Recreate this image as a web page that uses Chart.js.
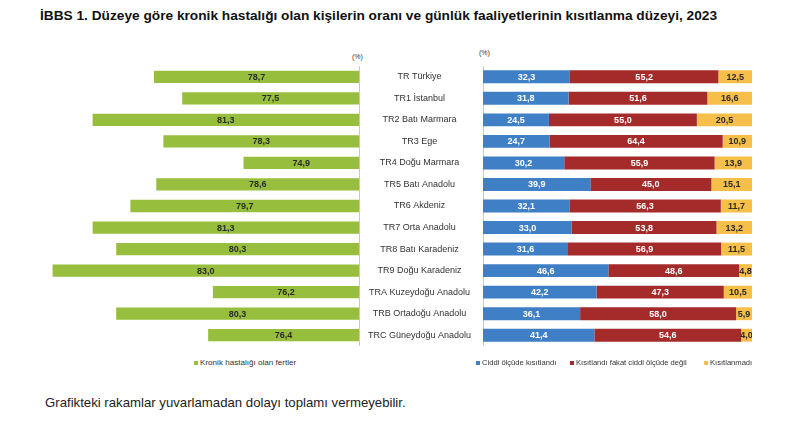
<!DOCTYPE html>
<html><head><meta charset="utf-8">
<script src="https://cdn.jsdelivr.net/npm/chart.js@4.4.0/dist/chart.umd.min.js"></script>
<style>
body{margin:0;background:#fff;width:800px;height:423px;position:relative;overflow:hidden;font-family:"Liberation Sans",Arial,sans-serif;}
.abs{position:absolute;}
#title{left:40px;top:8px;font-family:"Liberation Sans Narrow","Arial Narrow","Liberation Sans",sans-serif;font-weight:bold;font-size:13.7px;color:#111;white-space:nowrap;}
.pct{font-size:7px;color:#333;}
.leg{font-size:7.6px;color:#333;white-space:nowrap;display:flex;align-items:center;}
.sq{display:inline-block;width:4px;height:4px;margin-right:2px;}
#foot{left:45px;top:395px;font-size:13.2px;color:#222;white-space:nowrap;}
</style></head>
<body>
<div id="title" class="abs">İBBS 1. Düzeye göre kronik hastalığı olan kişilerin oranı ve günlük faaliyetlerinin kısıtlanma düzeyi, 2023</div>
<div class="abs pct" style="left:352px;top:53px;">(%)</div>
<div class="abs pct" style="left:479px;top:49px;">(%)</div>
<div class="abs" style="left:29px;top:66px;width:331px;height:280px;"><canvas id="left"></canvas></div>
<div class="abs" style="left:358px;top:66px;width:394px;height:280px;"><canvas id="right"></canvas></div>
<div class="abs leg" style="left:194px;top:358px;font-size:8.1px;"><span class="sq" style="background:#97BF3D"></span>Kronik hastalığı olan fertler</div>
<div class="abs leg" style="left:476px;top:358px;"><span class="sq" style="background:#3F7FC6"></span>Ciddi ölçüde kısıtlandı</div>
<div class="abs leg" style="left:570px;top:358px;"><span class="sq" style="background:#A52A2A"></span>Kısıtlandı fakat ciddi ölçüde değil</div>
<div class="abs leg" style="left:704px;top:358px;"><span class="sq" style="background:#F6BF4A"></span>Kısıtlanmadı</div>
<div id="foot" class="abs">Grafikteki rakamlar yuvarlamadan dolayı toplamı vermeyebilir.</div>
<script>
const regions = ["TR Türkiye","TR1 İstanbul","TR2 Batı Marmara","TR3 Ege","TR4 Doğu Marmara","TR5 Batı Anadolu","TR6 Akdeniz","TR7 Orta Anadolu","TR8 Batı Karadeniz","TR9 Doğu Karadeniz","TRA Kuzeydoğu Anadolu","TRB Ortadoğu Anadolu","TRC Güneydoğu Anadolu"];
const chronic = [78.7,77.5,81.3,78.3,74.9,78.6,79.7,81.3,80.3,83.0,76.2,80.3,76.4];
const severe = [32.3,31.8,24.5,24.7,30.2,39.9,32.1,33.0,31.6,46.6,42.2,36.1,41.4];
const limitedNotSevere = [55.2,51.6,55.0,64.4,55.9,45.0,56.3,53.8,56.9,48.6,47.3,58.0,54.6];
const notLimited = [12.5,16.6,20.5,10.9,13.9,15.1,11.7,13.2,11.5,4.8,10.5,5.9,4.0];

const fmt = v => v.toFixed(1).replace('.', ',');
const labelPlugin = {
  id:'lbl',
  afterDatasetsDraw(chart){
    const ctx = chart.ctx, ca = chart.chartArea;
    ctx.save();
    ctx.font = 'bold 9px "Liberation Sans", Arial, sans-serif';
    ctx.textAlign='center'; ctx.textBaseline='middle';
    chart.data.datasets.forEach((ds,di)=>{
      const meta = chart.getDatasetMeta(di);
      meta.data.forEach((bar,i)=>{
        const clamp = v => Math.min(ca.right, Math.max(ca.left, v));
        const x0 = clamp(bar.base), x1 = clamp(bar.x);
        ctx.fillStyle = ds.labelColor;
        ctx.fillText(fmt(ds.data[i]), (x0+x1)/2, bar.y+0.5);
      });
    });
    ctx.restore();
  }
};

Chart.defaults.animation = false;
Chart.defaults.font.family = '"Liberation Sans", Arial, sans-serif';

new Chart(document.getElementById('left'), {
  type:'bar',
  data:{labels:regions, datasets:[{data:chronic, backgroundColor:'#97BF3D', labelColor:'#2b2b2b', barPercentage:0.57, categoryPercentage:1}]},
  options:{
    indexAxis:'y', responsive:true, maintainAspectRatio:false,
    layout:{padding:0},
    plugins:{legend:{display:false}, tooltip:{enabled:false}},
    scales:{
      x:{min:70, max:84, reverse:true, display:false},
      y:{position:'right', ticks:{display:false}, grid:{display:false, drawTicks:false}, border:{display:true, color:'#c8c8c8'}, afterFit(a){a.width=1; a.paddingTop=0; a.paddingBottom=0;}}
    }
  },
  plugins:[labelPlugin]
});

new Chart(document.getElementById('right'), {
  type:'bar',
  data:{labels:regions, datasets:[
    {data:severe, backgroundColor:'#3F7FC6', labelColor:'#ffffff', barPercentage:0.6, categoryPercentage:1},
    {data:limitedNotSevere, backgroundColor:'#A52A2A', labelColor:'#ffffff', barPercentage:0.6, categoryPercentage:1},
    {data:notLimited, backgroundColor:'#F6BF4A', labelColor:'#2b2b2b', barPercentage:0.6, categoryPercentage:1}
  ]},
  options:{
    indexAxis:'y', responsive:true, maintainAspectRatio:false,
    layout:{padding:0},
    plugins:{legend:{display:false}, tooltip:{enabled:false}},
    scales:{
      x:{stacked:true, min:0, max:100, display:false},
      y:{stacked:true, position:'left', grid:{display:false, drawTicks:false}, border:{display:true, color:'#c8c8c8'},
         ticks:{crossAlign:'center', padding:12, color:'#333', font:{size:9}},
         afterFit(a){a.width=125; a.paddingTop=0; a.paddingBottom=0;}}
    }
  },
  plugins:[labelPlugin]
});
</script>
</body></html>
